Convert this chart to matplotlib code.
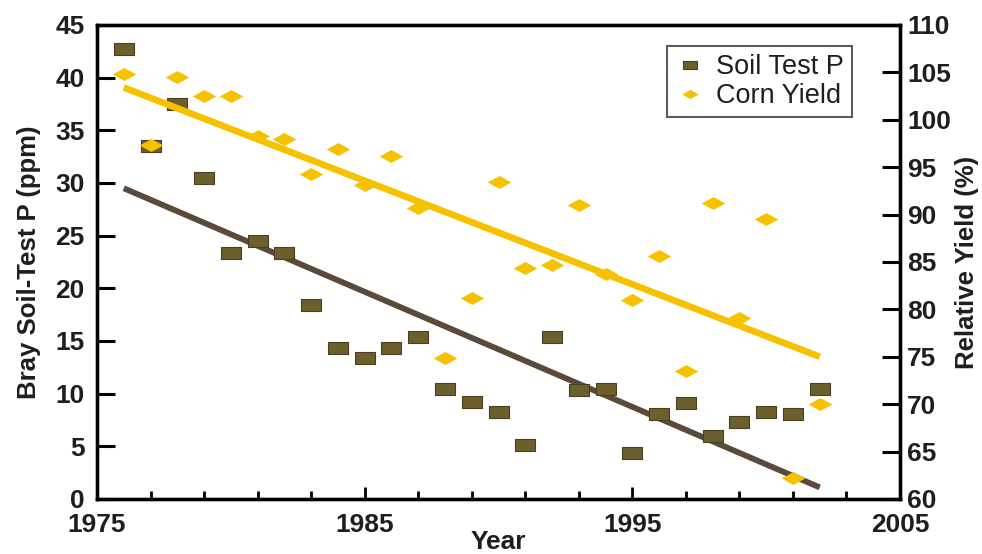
import numpy as np
import matplotlib
matplotlib.use("Agg")
import matplotlib.pyplot as plt
from matplotlib.path import Path

plt.rcParams['font.family'] = ['Liberation Sans', 'DejaVu Sans']

years = list(range(1976, 2003))

soil_p = [42.7, 33.5, 37.5, 30.5, 23.4, 24.5, 23.4, 18.4, 14.3, 13.4,
          14.3, 15.4, 10.4, 9.2, 8.3, 5.1, 15.4, 10.3, 10.4, 4.4,
          8.1, 9.1, 6.0, 7.3, 8.3, 8.1, 10.4]

corn_yield = [104.8, 97.3, 104.5, 102.5, 102.5, 98.3, 98.0, 94.3, 96.9, 93.1,
              96.2, 90.7, 74.9, 81.2, 93.4, 84.4, 84.7, 91.0, 83.7, 81.0,
              85.6, 73.5, 91.2, 79.1, 89.5, 62.2, 70.0]

# trend lines (start / end year)
trend_years = [1976, 2002]
trend_p = [29.5, 1.1]
trend_yield = [103.4, 75.0]

sq_col = "#6b5f2e"
sq_edge = "#4a4020"
yel = "#f6c200"
brown = "#5b4a39"
txt = "#1e1e1e"

rect = Path([(-1, -0.58), (1, -0.58), (1, 0.58), (-1, 0.58), (-1, -0.58)],
            [Path.MOVETO, Path.LINETO, Path.LINETO, Path.LINETO, Path.CLOSEPOLY])
diam = Path([(-1, 0), (0, -0.55), (1, 0), (0, 0.55), (-1, 0)],
            [Path.MOVETO, Path.LINETO, Path.LINETO, Path.LINETO, Path.CLOSEPOLY])

fig = plt.figure(figsize=(9.82, 5.54), dpi=100)
ax = fig.add_axes([0.0988, 0.0993, 0.8177, 0.8556])
ax2 = ax.twinx()

ax.plot(trend_years, trend_p, color=brown, lw=4.2, solid_capstyle='butt', zorder=2)
h1, = ax.plot(years, soil_p, linestyle='none', marker=rect, markersize=14.5,
              markerfacecolor=sq_col, markeredgecolor=sq_edge, markeredgewidth=0.8,
              label='Soil Test P', zorder=3)

ax2.plot(trend_years, trend_yield, color=yel, lw=4.8, solid_capstyle='butt', zorder=2)
h2, = ax2.plot(years, corn_yield, linestyle='none', marker=diam, markersize=17,
               markerfacecolor=yel, markeredgecolor=yel, markeredgewidth=0,
               label='Corn Yield', zorder=3)

ax.set_xlim(1975, 2005)
ax.set_ylim(0, 45)
ax2.set_ylim(60, 110)

ax.set_xticks([1975, 1985, 1995, 2005])
ax.set_xticks(np.arange(1977, 2005, 2), minor=True)
ax.set_yticks(np.arange(0, 46, 5))
ax2.set_yticks(np.arange(60, 111, 5))

for a in (ax, ax2):
    for s in a.spines.values():
        s.set_linewidth(2.4)
        s.set_color('black')

ax.tick_params(axis='y', direction='in', length=13, width=2.2, pad=9)
ax.tick_params(axis='x', which='major', direction='in', length=9, width=2, pad=10)
ax.tick_params(axis='x', which='minor', direction='in', length=6, width=2)
ax2.tick_params(axis='y', direction='in', length=13, width=2.2, pad=5)
for lab in ax.get_xticklabels() + ax.get_yticklabels() + ax2.get_yticklabels():
    lab.set_fontsize(19)
    lab.set_fontweight('bold')
    lab.set_color(txt)

ax.set_xlabel('Year', fontsize=19, fontweight='bold', color=txt, labelpad=-5)
ax.set_ylabel('Bray Soil-Test P (ppm)', fontsize=18.5, fontweight='bold', color=txt, labelpad=10)
ax2.set_ylabel('Relative Yield (%)', fontsize=18.5, fontweight='bold', color=txt, labelpad=3)

leg = ax2.legend(handles=[h1, h2], loc='upper right', bbox_to_anchor=(0.94, 0.955),
                 fontsize=19.5, frameon=True, fancybox=False, handlelength=1.1,
                 handletextpad=0.4, borderpad=0.3, labelspacing=0.1, markerscale=0.7,
                 borderaxespad=0)
leg.get_frame().set_edgecolor('#333333')
leg.get_frame().set_linewidth(1.5)
for t in leg.get_texts():
    t.set_color(txt)

fig.savefig('out.png', dpi=100)
